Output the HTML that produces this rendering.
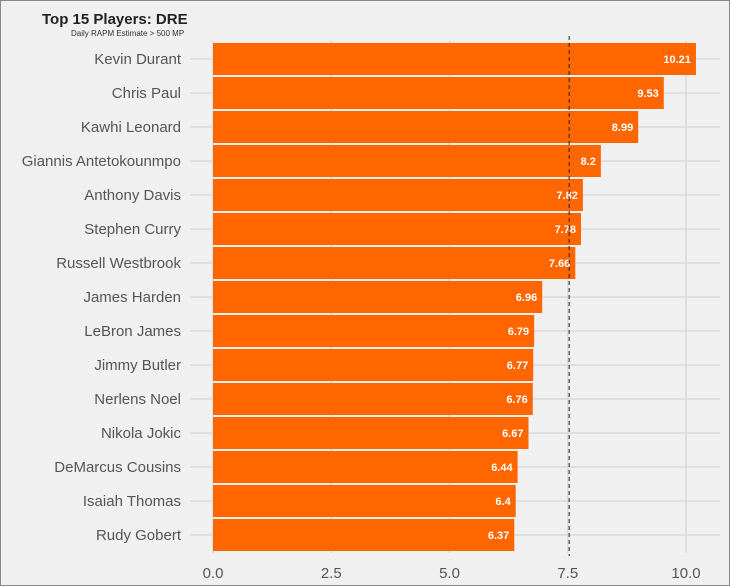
<!DOCTYPE html>
<html><head><meta charset="utf-8"><style>
body{margin:0;background:#f0f0f0;}
svg{display:block;font-family:"Liberation Sans",sans-serif;}
</style></head><body>
<svg id="chart" width="730" height="586">
<rect x="0.5" y="0.5" width="729" height="585" fill="#f0f0f0" stroke="#888"/>
<text x="42" y="24" font-size="15" font-weight="bold" fill="#222">Top 15 Players: DRE</text>
<text x="71" y="36" font-size="8" fill="#333">Daily RAPM Estimate &gt; 500 MP</text>
<g id="grid"></g><g id="bars"></g><g id="axes"></g>
</svg>
<script>
const players=["Kevin Durant","Chris Paul","Kawhi Leonard","Giannis Antetokounmpo","Anthony Davis","Stephen Curry","Russell Westbrook","James Harden","LeBron James","Jimmy Butler","Nerlens Noel","Nikola Jokic","DeMarcus Cousins","Isaiah Thomas","Rudy Gobert"];
const values=[10.21,9.53,8.99,8.2,7.82,7.78,7.66,6.96,6.79,6.77,6.76,6.67,6.44,6.4,6.37];
const labels=["10.21","9.53","8.99","8.2","7.82","7.78","7.66","6.96","6.79","6.77","6.76","6.67","6.44","6.4","6.37"];
const xTicks=[0,2.5,5,7.5,10];
const xTickLabels=["0.0","2.5","5.0","7.5","10.0"];
const refLine=7.53;
const NS="http://www.w3.org/2000/svg";
const x=v=>213+v*47.3;
const y=i=>59+i*34;
function mk(p,t,a){const e=document.createElementNS(NS,t);for(const k in a)e.setAttribute(k,a[k]);p.appendChild(e);return e;}
const g=document.getElementById('grid'),b=document.getElementById('bars'),ax=document.getElementById('axes');
xTicks.forEach((t,i)=>{
 const l=mk(g,'line',{x1:x(t),x2:x(t),y1:41,y2:553,stroke:'#d9d9d9','stroke-width':1.5});
 
 
 const tx=mk(ax,'text',{x:x(t),y:578,'font-size':15,fill:'#555','text-anchor':'middle'});
 tx.textContent=xTickLabels[i];
 
 
});
players.forEach((p,i)=>{
 const l=mk(g,'line',{x1:190,x2:720,y1:y(i),y2:y(i),stroke:'#d9d9d9','stroke-width':1.5});
 
 
 const r=mk(b,'rect',{x:x(0),y:y(i)-16,width:x(values[i])-x(0),height:32,fill:'#ff6600'});
 
 
 const v=mk(b,'text',{x:x(values[i])-5,y:y(i)+4,'font-size':11,'font-weight':'bold',fill:'#fff','text-anchor':'end'});
 v.textContent=labels[i];
 
 
 const n=mk(ax,'text',{x:181,y:y(i)+5,'font-size':15,fill:'#555','text-anchor':'end'});
 n.textContent=p;
 
 
});
const d=mk(b,'line',{x1:x(refLine),x2:x(refLine),y1:36,y2:556,stroke:'#222','stroke-width':1,'stroke-dasharray':'4,3'});


</script>
</body></html>
